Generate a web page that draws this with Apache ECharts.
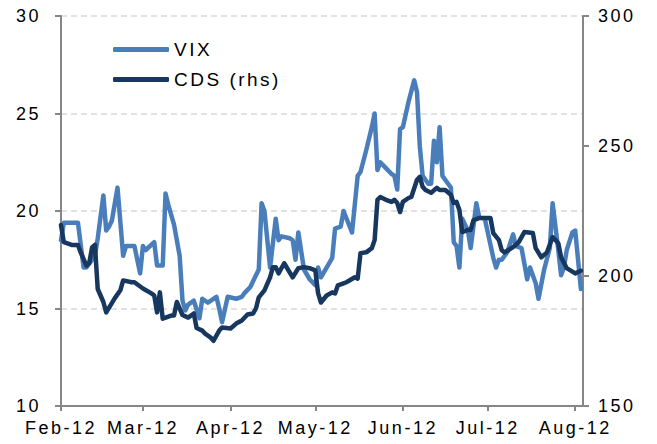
<!DOCTYPE html>
<html>
<head>
<meta charset="utf-8">
<script src="https://cdn.jsdelivr.net/npm/echarts@6/dist/echarts.min.js"></script>
<style>
  body { margin: 0; background: #fff; }
  #chart { width: 657px; height: 444px; }
  /* excel text is a bit wider than arial, spread it a little */
  #chart text { letter-spacing: 2.5px; }
</style>
</head>
<body>
<div id="chart"></div>
<script>
// month ticks on the x axis
const monthStarts = ['2012-02-01', '2012-03-01', '2012-04-01', '2012-05-01', '2012-06-01', '2012-07-01', '2012-08-01'];
const monthLabels = ['Feb-12', 'Mar-12', 'Apr-12', 'May-12', 'Jun-12', 'Jul-12', 'Aug-12'];

// VIX (left axis)
const vixDates = [
  '2012-02-01','2012-02-02','2012-02-07','2012-02-09','2012-02-10','2012-02-13','2012-02-14','2012-02-16','2012-02-17','2012-02-18','2012-02-19','2012-02-21','2012-02-23','2012-02-24','2012-02-27','2012-02-29',
  '2012-03-01','2012-03-02','2012-03-05','2012-03-06','2012-03-08','2012-03-09','2012-03-10','2012-03-12','2012-03-14','2012-03-15','2012-03-16','2012-03-17','2012-03-19','2012-03-21','2012-03-22','2012-03-24','2012-03-27','2012-03-28','2012-03-29','2012-03-31',
  '2012-04-03','2012-04-05','2012-04-06','2012-04-08','2012-04-10','2012-04-11','2012-04-12','2012-04-13','2012-04-15','2012-04-17','2012-04-18','2012-04-19','2012-04-22','2012-04-23','2012-04-24','2012-04-25','2012-04-27','2012-04-29',
  '2012-05-01','2012-05-02','2012-05-03','2012-05-05','2012-05-07','2012-05-08','2012-05-10','2012-05-11','2012-05-14','2012-05-16','2012-05-17','2012-05-19','2012-05-21','2012-05-22','2012-05-23','2012-05-24','2012-05-26','2012-05-28','2012-05-29','2012-05-30','2012-05-31',
  '2012-06-01','2012-06-03','2012-06-05','2012-06-06','2012-06-07','2012-06-08','2012-06-10','2012-06-11','2012-06-12','2012-06-13','2012-06-14','2012-06-15','2012-06-17','2012-06-18','2012-06-19','2012-06-20','2012-06-21','2012-06-22','2012-06-24','2012-06-25','2012-06-27','2012-06-28','2012-06-30',
  '2012-07-03','2012-07-04','2012-07-05','2012-07-06','2012-07-08','2012-07-10','2012-07-11','2012-07-13','2012-07-15','2012-07-16','2012-07-18','2012-07-19','2012-07-21','2012-07-23','2012-07-24','2012-07-26','2012-07-27','2012-07-28','2012-07-29','2012-07-31',
  '2012-08-01','2012-08-03'
];
const vixValues = [
  18.5, 19.4, 19.4, 17.1, 17.1, 17.7, 18.6, 20.8, 19.0, 19.2, 19.5, 21.2, 17.7, 18.2, 18.2, 16.8,
  18.2, 18.0, 18.4, 17.2, 17.2, 20.9, 20.3, 19.3, 17.7, 15.4, 14.9, 15.2, 15.4, 14.5, 15.5, 15.3, 15.6, 15.0, 14.3, 15.6,
  15.5, 15.6, 15.8, 16.1, 16.7, 17.0, 20.4, 20.0, 17.1, 19.6, 18.5, 18.7, 18.6, 18.5, 17.5, 18.9, 17.0, 16.5,
  16.2, 17.1, 16.6, 17.1, 17.6, 19.1, 19.2, 20.0, 18.9, 21.8, 22.0, 23.1, 24.3, 25.0, 22.1, 22.5, 22.2, 21.9, 21.8, 21.1, 24.2,
  24.3, 25.6, 26.7, 26.1, 23.3, 21.8, 21.4, 21.4, 23.6, 22.5, 24.3, 21.8, 21.4, 21.2, 18.4, 18.2, 17.1, 19.6, 19.0, 18.1, 20.4, 19.7, 19.6,
  17.6, 17.1, 17.5, 17.5, 17.9, 18.8, 18.2, 18.1, 16.5, 17.1, 16.3, 15.5, 17.0, 18.1, 20.4, 18.0, 16.7, 17.1, 18.0, 18.9,
  19.0, 16.0
];

// CDS (right axis)
const cdsDates = [
  '2012-02-01','2012-02-02','2012-02-05','2012-02-07','2012-02-08','2012-02-10','2012-02-11','2012-02-12','2012-02-13','2012-02-14','2012-02-16','2012-02-17','2012-02-20','2012-02-22','2012-02-23','2012-02-26','2012-02-27',
  '2012-03-01','2012-03-04','2012-03-05','2012-03-06','2012-03-07','2012-03-08','2012-03-11','2012-03-12','2012-03-13','2012-03-15','2012-03-17','2012-03-19','2012-03-20','2012-03-22','2012-03-23','2012-03-25','2012-03-26','2012-03-28','2012-03-29',
  '2012-04-01','2012-04-03','2012-04-05','2012-04-07','2012-04-09','2012-04-10','2012-04-11','2012-04-13','2012-04-15','2012-04-16','2012-04-17','2012-04-18','2012-04-20','2012-04-23','2012-04-25','2012-04-27','2012-04-29',
  '2012-05-01','2012-05-02','2012-05-03','2012-05-05','2012-05-07','2012-05-08','2012-05-09','2012-05-11','2012-05-12','2012-05-15','2012-05-16','2012-05-17','2012-05-19','2012-05-21','2012-05-22','2012-05-23','2012-05-24','2012-05-26','2012-05-28','2012-05-29','2012-05-30','2012-05-31',
  '2012-06-01','2012-06-03','2012-06-04','2012-06-06','2012-06-07','2012-06-08','2012-06-09','2012-06-11','2012-06-13','2012-06-14','2012-06-16','2012-06-18','2012-06-19','2012-06-20','2012-06-21','2012-06-22','2012-06-24','2012-06-25','2012-06-26','2012-06-28','2012-06-30',
  '2012-07-02','2012-07-03','2012-07-05','2012-07-06','2012-07-07','2012-07-10','2012-07-12','2012-07-14','2012-07-17','2012-07-18','2012-07-20','2012-07-22','2012-07-24','2012-07-26','2012-07-27','2012-07-29',
  '2012-08-01','2012-08-03'
];
const cdsValues = [
  219.6, 213, 211.9, 211.9, 209, 204, 205, 211, 212, 195, 190, 186, 191.4, 194.5, 198.3, 197.6, 197.6,
  195.2, 193.3, 192.5, 186, 193.7, 183.6, 184.8, 184.8, 190, 185, 184, 185.6, 180, 179, 177.8, 176.3, 175.1, 179, 180.2,
  179.8, 181.7, 182.9, 185.2, 185.6, 187.5, 191.8, 194.5, 199.5, 203.4, 203.4, 201, 204.9, 199.5, 203, 203.4, 203,
  202.2, 193.3, 189.8, 192.5, 193.7, 193.3, 196.4, 197.2, 197.6, 199.5, 199, 208.8, 209.1, 210.7, 213.8, 229.3, 230.4, 229.3, 228.5, 229.3, 228.1, 224.6,
  228.5, 230, 230.4, 237, 238.1, 234.3, 233.1, 232, 233.9, 233.1, 233.1, 231.2, 228.1, 228.5, 225.4, 216.9, 217.7, 217.7, 221.5, 222.3, 222.3,
  222.3, 216.5, 213.8, 209.9, 209.1, 211.1, 213, 216.9, 216.5, 210.7, 207.2, 209.1, 215, 212.6, 207.2, 203,
  201, 202
];

function toTime(s) {
  return new Date(s + 'T00:00:00').getTime();
}

const monthTimes = monthStarts.map(toTime);
const font = 'Liberation Sans, Arial, sans-serif';
const axisGrey = '#868686';

const chart = echarts.init(document.getElementById('chart'), null, { renderer: 'svg' });

// x is a plain value axis on timestamps so the month ticks can be placed by hand
chart.setOption({
  animation: false,
  backgroundColor: '#fff',
  grid: { left: 61, right: 74, top: 16, bottom: 38, outerBoundsMode: 'none' },
  legend: {
    orient: 'vertical',
    left: 108,
    top: 35,
    icon: 'roundRect',
    itemWidth: 56,
    itemHeight: 5,
    itemGap: 11,
    textStyle: { fontSize: 19, fontFamily: font, color: '#000' },
    data: ['VIX', 'CDS (rhs)']
  },
  xAxis: {
    type: 'value',
    min: toTime('2012-02-01'),
    max: toTime('2012-08-03') + 18 * 3600 * 1000,
    axisLine: { lineStyle: { color: axisGrey, width: 2 } },
    axisTick: { show: true, length: 5, customValues: monthTimes, lineStyle: { color: axisGrey, width: 2 } },
    axisLabel: {
      customValues: monthTimes,
      margin: 13,
      fontSize: 18,
      fontFamily: font,
      color: '#000',
      formatter: function (v) {
        const i = monthTimes.indexOf(v);
        return i >= 0 ? monthLabels[i] : '';
      }
    },
    splitLine: { show: false }
  },
  yAxis: [
    {
      type: 'value',
      position: 'left',
      min: 10,
      max: 30,
      interval: 5,
      axisLine: { show: true, lineStyle: { color: axisGrey, width: 2 } },
      axisTick: { show: true, length: 6, lineStyle: { color: axisGrey, width: 2 } },
      axisLabel: { margin: 20, fontSize: 18, fontFamily: font, color: '#000' },
      splitLine: { lineStyle: { color: '#d9d9d9', width: 1.5, type: [6, 4] } }
    },
    {
      type: 'value',
      position: 'right',
      min: 150,
      max: 300,
      interval: 50,
      axisLine: { show: true, lineStyle: { color: axisGrey, width: 2 } },
      axisTick: { show: true, length: 6, lineStyle: { color: axisGrey, width: 2 } },
      axisLabel: { margin: 15, fontSize: 18, fontFamily: font, color: '#000' },
      splitLine: { show: false }
    }
  ],
  series: [
    {
      name: 'VIX',
      type: 'line',
      yAxisIndex: 0,
      showSymbol: false,
      symbol: 'none',
      color: '#4a7ebb',
      lineStyle: { width: 4.5, cap: 'round', join: 'round' },
      data: vixDates.map((d, i) => [toTime(d), vixValues[i]])
    },
    {
      name: 'CDS (rhs)',
      type: 'line',
      yAxisIndex: 1,
      showSymbol: false,
      symbol: 'none',
      color: '#17375e',
      lineStyle: { width: 4.5, cap: 'round', join: 'round' },
      data: cdsDates.map((d, i) => [toTime(d), cdsValues[i]])
    }
  ]
});
</script>
</body>
</html>
